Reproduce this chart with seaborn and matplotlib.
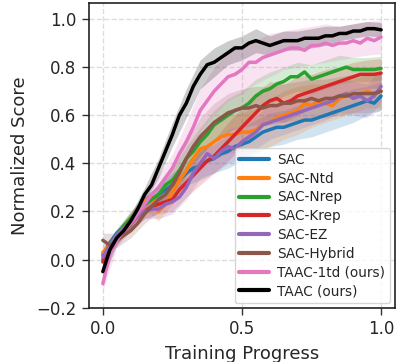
import numpy as np
import pandas as pd
import matplotlib
matplotlib.use("Agg")
import matplotlib.pyplot as plt
import seaborn as sns

# ---------------- data ----------------
progress = [i * 0.025 for i in range(41)]
band_progress = progress[::2]

methods = ["SAC", "SAC-Ntd", "SAC-Nrep", "SAC-Krep", "SAC-EZ", "SAC-Hybrid",
           "TAAC-1td (ours)", "TAAC (ours)"]
colors = ["#1f77b4", "#ff7f0e", "#2ca02c", "#d62728", "#9467bd", "#8c564b",
          "#e377c2", "#000000"]

sac = [0.02, 0.07, 0.11, 0.14, 0.17, 0.20, 0.23, 0.25, 0.27, 0.29, 0.31, 0.33, 0.36, 0.38,
       0.39, 0.41, 0.42, 0.44, 0.45, 0.47, 0.48, 0.49, 0.51, 0.53, 0.54, 0.55, 0.55, 0.56,
       0.57, 0.58, 0.58, 0.59, 0.60, 0.61, 0.62, 0.63, 0.64, 0.65, 0.66, 0.65, 0.68]
sac_ntd = [0.03, 0.06, 0.10, 0.14, 0.17, 0.20, 0.24, 0.26, 0.20, 0.23, 0.28, 0.33, 0.37, 0.42,
           0.46, 0.47, 0.49, 0.51, 0.52, 0.52, 0.53, 0.53, 0.54, 0.56, 0.57, 0.59, 0.60, 0.61,
           0.62, 0.65, 0.64, 0.66, 0.65, 0.64, 0.67, 0.68, 0.68, 0.69, 0.70, 0.69, 0.70]
sac_nrep = [0.00, 0.06, 0.10, 0.14, 0.17, 0.20, 0.23, 0.25, 0.27, 0.31, 0.33, 0.37, 0.42, 0.45,
            0.49, 0.52, 0.56, 0.58, 0.60, 0.62, 0.63, 0.65, 0.68, 0.70, 0.71, 0.73, 0.74, 0.76,
            0.76, 0.78, 0.75, 0.76, 0.77, 0.78, 0.79, 0.80, 0.79, 0.79, 0.79, 0.79, 0.795]
sac_krep = [-0.01, 0.05, 0.09, 0.12, 0.15, 0.18, 0.20, 0.22, 0.23, 0.24, 0.25, 0.29, 0.32, 0.35,
            0.38, 0.41, 0.43, 0.46, 0.49, 0.52, 0.55, 0.58, 0.61, 0.64, 0.66, 0.67, 0.65, 0.66,
            0.68, 0.69, 0.70, 0.71, 0.72, 0.73, 0.74, 0.75, 0.76, 0.77, 0.77, 0.77, 0.775]
sac_ez = [0.01, 0.06, 0.10, 0.13, 0.15, 0.18, 0.20, 0.21, 0.21, 0.23, 0.24, 0.26, 0.30, 0.36,
          0.40, 0.44, 0.42, 0.45, 0.47, 0.46, 0.49, 0.51, 0.53, 0.56, 0.57, 0.58, 0.59, 0.60,
          0.61, 0.62, 0.63, 0.64, 0.65, 0.66, 0.68, 0.69, 0.67, 0.68, 0.66, 0.68, 0.72]
sac_hybrid = [0.08, 0.06, 0.08, 0.10, 0.12, 0.15, 0.19, 0.22, 0.25, 0.27, 0.31, 0.36, 0.42, 0.47,
              0.51, 0.54, 0.57, 0.59, 0.61, 0.62, 0.63, 0.63, 0.64, 0.63, 0.64, 0.64, 0.65, 0.65,
              0.66, 0.66, 0.67, 0.66, 0.67, 0.67, 0.68, 0.68, 0.69, 0.69, 0.69, 0.69, 0.70]
taac_1td = [-0.10, 0.02, 0.08, 0.12, 0.15, 0.19, 0.23, 0.27, 0.30, 0.34, 0.38, 0.44, 0.49, 0.55,
            0.62, 0.66, 0.70, 0.73, 0.76, 0.77, 0.79, 0.82, 0.82, 0.84, 0.85, 0.86, 0.87, 0.88,
            0.88, 0.87, 0.89, 0.89, 0.90, 0.89, 0.90, 0.90, 0.91, 0.90, 0.92, 0.91, 0.925]
taac = [-0.05, 0.04, 0.09, 0.12, 0.16, 0.21, 0.27, 0.31, 0.38, 0.45, 0.52, 0.60, 0.65, 0.72,
        0.77, 0.81, 0.82, 0.84, 0.86, 0.88, 0.88, 0.90, 0.91, 0.90, 0.89, 0.90, 0.91, 0.91,
        0.91, 0.92, 0.92, 0.92, 0.93, 0.93, 0.94, 0.94, 0.95, 0.95, 0.96, 0.96, 0.955]

# half-widths of shaded bands, at band_progress
sac_band = [0.02, 0.02, 0.03, 0.03, 0.04, 0.05, 0.05, 0.06, 0.06, 0.07, 0.07, 0.07, 0.07, 0.07,
            0.07, 0.07, 0.07, 0.07, 0.07, 0.06, 0.06]
sac_ntd_band = [0.02, 0.02, 0.03, 0.03, 0.04, 0.05, 0.06, 0.07, 0.07, 0.08, 0.08, 0.09, 0.10,
                0.10, 0.10, 0.09, 0.08, 0.08, 0.07, 0.07, 0.07]
sac_nrep_band = [0.02, 0.02, 0.03, 0.03, 0.04, 0.05, 0.05, 0.06, 0.06, 0.07, 0.07, 0.07, 0.07,
                 0.06, 0.06, 0.06, 0.06, 0.06, 0.05, 0.05, 0.05]
sac_krep_band = [0.02, 0.02, 0.03, 0.03, 0.04, 0.05, 0.06, 0.07, 0.07, 0.08, 0.08, 0.08, 0.08,
                 0.08, 0.08, 0.07, 0.07, 0.06, 0.06, 0.06, 0.06]
sac_ez_band = [0.02, 0.02, 0.03, 0.03, 0.04, 0.05, 0.05, 0.06, 0.06, 0.07, 0.07, 0.07, 0.07,
               0.07, 0.07, 0.07, 0.07, 0.07, 0.07, 0.07, 0.07]
sac_hybrid_band = [0.03, 0.03, 0.03, 0.04, 0.05, 0.06, 0.07, 0.08, 0.08, 0.08, 0.08, 0.08, 0.08,
                   0.08, 0.08, 0.08, 0.08, 0.08, 0.08, 0.08, 0.08]
taac_1td_band = [0.03, 0.03, 0.03, 0.04, 0.05, 0.06, 0.08, 0.09, 0.10, 0.10, 0.10, 0.09, 0.09,
                 0.08, 0.08, 0.08, 0.08, 0.07, 0.07, 0.07, 0.07]
taac_band = [0.03, 0.03, 0.03, 0.03, 0.04, 0.05, 0.06, 0.06, 0.06, 0.05, 0.05, 0.05, 0.04, 0.04,
             0.04, 0.04, 0.04, 0.03, 0.03, 0.03, 0.03]

means = [sac, sac_ntd, sac_nrep, sac_krep, sac_ez, sac_hybrid, taac_1td, taac]
bands = [sac_band, sac_ntd_band, sac_nrep_band, sac_krep_band, sac_ez_band, sac_hybrid_band,
         taac_1td_band, taac_band]

# ---------------- plot ----------------
sns.set_style("ticks")
plt.rcParams['font.family'] = ['DejaVu Sans']

fig = plt.figure(figsize=(3.97, 3.62), dpi=100)
ax = fig.add_axes([0.224, 0.150, 0.771, 0.842])

for m, c, mean, band in zip(methods, colors, means, bands):
    mb = np.array(mean[::2])
    hb = np.array(band)
    ax.fill_between(band_progress, mb - hb, mb + hb, color=c, alpha=0.2, linewidth=0)

df = pd.DataFrame({
    "Training Progress": np.tile(progress, len(methods)),
    "Normalized Score": np.concatenate([np.array(m) for m in means]),
    "Method": np.repeat(methods, len(progress)),
})
sns.lineplot(data=df, x="Training Progress", y="Normalized Score", hue="Method",
             hue_order=methods, palette=colors, linewidth=2.5, ax=ax, legend=True)

ax.set_xlim(-0.05, 1.05)
ax.set_ylim(-0.2, 1.067)
ax.set_xticks([0.0, 0.5, 1.0])
ax.set_yticks([-0.2, 0.0, 0.2, 0.4, 0.6, 0.8, 1.0])
ax.tick_params(labelsize=12, length=5, width=1, pad=4, color="#333333")
ax.set_xlabel("Training Progress", fontsize=13, labelpad=5)
ax.set_ylabel("Normalized Score", fontsize=13, labelpad=5)
ax.grid(True, linestyle="--", color="#dddddd", linewidth=1)
for s in ax.spines.values():
    s.set_visible(True)
    s.set_color("#222222")
    s.set_linewidth(1.2)

leg = ax.legend(loc="lower right", fontsize=9.8, handlelength=2.2, handletextpad=0.6,
                borderpad=0.35, borderaxespad=0.35, labelspacing=0.35, frameon=True)
for line in leg.get_lines():
    line.set_linewidth(3)

fig.savefig("out.png", dpi=100)
